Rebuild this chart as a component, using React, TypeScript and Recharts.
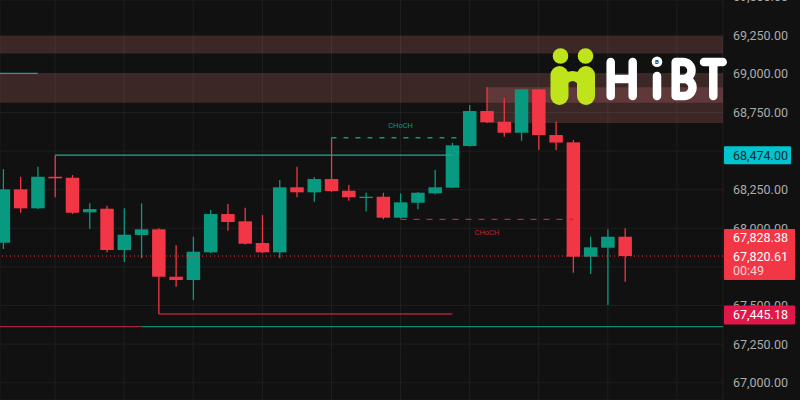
import React from 'react';
import {
  ComposedChart, Bar, XAxis, YAxis, CartesianGrid, ReferenceLine, ReferenceArea,
} from 'recharts';

// 1-minute candles
const opens = [67906.7, 68252.6, 68129.5, 68334, 68327.7, 68103.6, 68127, 67859.5, 67956.6, 67993.5, 67686.5, 67665.1, 67844.6, 68092.6, 68045.3, 67904.8, 67844.6, 68265.6, 68233.2, 68319.3, 68243.5, 68196.3, 68204.7, 68068.7, 68165.8, 68226.7, 68263, 68533, 68759.8, 68690.4, 68619.2, 68900.3, 68604.3, 68557, 67816, 67874.3, 67945.6];
const highs = [68384, 68334, 68399, 68474, 68345, 68162, 68146, 68129.5, 68162, 68000, 67889.9, 67945.6, 68118.5, 68157.4, 68133.4, 68086.1, 68312.8, 68399, 68330.3, 68586.8, 68280.5, 68231.9, 68230.6, 68226.7, 68235, 68377.6, 68554.4, 68798.6, 68913.3, 68842, 68902, 68902, 68690.4, 68571.9, 67945.6, 67993.5, 68000];
const lows = [67866, 68101, 68125, 68200.8, 68092.6, 67997.4, 67844.6, 67781.7, 67805.7, 67445.18, 67621.7, 67535.6, 67840, 67984.5, 67895, 67840, 67805.7, 68200.8, 68172.3, 68235, 68178.8, 68108.8, 68058.3, 68063.5, 68123, 68220.2, 68261, 68530, 68682, 68593.3, 68567.4, 68507.1, 68507.1, 67712.4, 67704, 67503.2, 67654.1];
const closes = [68252.6, 68129.5, 68334, 68323.9, 68101, 68125, 67859.5, 67958.5, 67993.5, 67686.5, 67665.1, 67848.4, 68092.6, 68040.8, 67900.3, 67844.6, 68265.6, 68233.2, 68319.3, 68241.6, 68200.8, 68204.7, 68068.7, 68168.4, 68230.6, 68265.6, 68537.6, 68759.8, 68686.6, 68619.2, 68900.3, 68604.3, 68555.7, 67816, 67877, 67945.6, 67820.61];

const priceTicks = [67000, 67250, 67500, 67750, 68000, 68250, 68500, 68750, 69000, 69250, 69500];
const timeGrid = [3, 7, 11, 15, 19, 23, 27, 31, 35, 39];

// structure levels (SMC indicator)
const bosLevel = 68474;
const chochUp = 68586.8;
const chochDown = 68058.3;
const swingLow = 67445.18;
const baseLevel = 67362.7;
const topLevel = 69004;
const lastPrice = 67820.61;
const markPrice = 67828.38;
const countdown = '00:49';

const zoneA = [69132, 69246];
const zoneB = [68813.5, 69004];
const zoneC = [68682, 68913.3];

const X_DOMAIN: [number, number] = [-0.19, 41.67];
const Y_DOMAIN: [number, number] = [66888, 69479];
const AXIS_W = 77;

const GREEN = '#089981';
const RED = '#f23645';
const BG = '#111111';
const FONT = 'Roboto, sans-serif';

const candles = opens.map((o, i) => ({
  i,
  open: o,
  high: highs[i],
  low: lows[i],
  close: closes[i],
}));

const fmt = (v: number) =>
  v.toLocaleString('en-US', { minimumFractionDigits: 2, maximumFractionDigits: 2 });

function Candle(props: any) {
  const { x, y, width, height, payload } = props;
  if (x == null || y == null) return null;
  const { open, close, high, low } = payload;
  const color = close >= open ? GREEN : RED;
  const span = high - low || 1;
  const toY = (v: number) => y + ((high - v) / span) * height;
  const cx = x + width / 2;
  const top = toY(Math.max(open, close));
  const bot = toY(Math.min(open, close));
  return (
    <g>
      <line x1={cx} x2={cx} y1={y} y2={y + height} stroke={color} strokeWidth={1.3} />
      <rect x={x} y={top} width={width} height={Math.max(bot - top, 1.2)} fill={color} />
    </g>
  );
}

// price tag drawn on the right scale, anchored at a level's y
function PriceTag(props: any) {
  const { viewBox, bg, fg, lines, top, h, w } = props;
  if (!viewBox) return null;
  const x0 = viewBox.x + viewBox.width + 1;
  const y = viewBox.y;
  return (
    <g>
      <rect x={x0} y={y + top} width={w} height={h} fill={bg} rx={1} />
      {lines.map((l: any, k: number) => (
        <text
          key={k}
          x={x0 + 9}
          y={y + l.dy}
          dy="0.36em"
          fill={l.color || fg}
          fontSize={l.size || 12.5}
          fontFamily={FONT}
        >
          {l.text}
        </text>
      ))}
    </g>
  );
}

function Logo() {
  const lime = '#bfe41c';
  const white = '#ffffff';
  return (
    <svg width={800} height={400} style={{ position: 'absolute', left: 0, top: 0, pointerEvents: 'none' }}>
      <circle cx={560.5} cy={56} r={7.8} fill={lime} />
      <circle cx={585.5} cy={56} r={7.8} fill={lime} />
      <rect x={550.5} y={66} width={18} height={39} rx={9} fill={lime} />
      <rect x={577} y={66} width={18} height={39} rx={9} fill={lime} />
      <path d="M559 86 Q572.5 66 586 86" stroke={lime} strokeWidth={10} fill="none" />
      <g stroke={white} strokeWidth={8.5} strokeLinecap="round" strokeLinejoin="round" fill="none">
        <path d="M610.7 62 V96 M632.7 62 V96 M610.7 79 H632.7" />
        <path d="M657 76 V96" />
        <path d="M675.7 62 H683 A8.5 8.5 0 0 1 683 79 H675.7 M684 79 A8.5 8.5 0 0 1 684 96 H675.7 V62" />
        <path d="M704 62 H722.7 M713.3 62 V96" />
      </g>
      <circle cx={657} cy={61.7} r={5.3} fill={white} />
      <text x={657} y={63.8} fontSize={6} fontWeight={700} fill="#333" textAnchor="middle" fontFamily={FONT}>B</text>
    </svg>
  );
}

export default function App() {
  return (
    <div
      style={{
        position: 'absolute',
        left: 0,
        top: 0,
        width: 800,
        height: 400,
        background: BG,
        overflow: 'hidden',
        fontFamily: FONT,
      }}
    >
      <ComposedChart
        width={800}
        height={400}
        data={candles}
        margin={{ top: 0, right: 0, bottom: 0, left: 0 }}
        style={{ position: 'absolute', left: 0, top: 0 }}
      >
        <CartesianGrid stroke="#1f1f1f" strokeWidth={1} />
        <XAxis
          dataKey="i"
          type="number"
          domain={X_DOMAIN}
          allowDataOverflow
          ticks={timeGrid}
          hide
        />
        <YAxis
          orientation="right"
          type="number"
          width={AXIS_W}
          domain={Y_DOMAIN}
          allowDataOverflow
          ticks={priceTicks}
          interval={0}
          axisLine={false}
          tickLine={false}
          tickMargin={4}
          tick={{ fill: '#ababab', fontSize: 12.5, fontFamily: FONT }}
          tickFormatter={(v: number) => fmt(v)}
        />

        <ReferenceArea y1={zoneA[0]} y2={zoneA[1]} fill="#ed8484" fillOpacity={0.2} stroke="none" ifOverflow="visible" />
        <ReferenceArea y1={zoneB[0]} y2={zoneB[1]} fill="#ed8484" fillOpacity={0.2} stroke="none" ifOverflow="visible" />
        <ReferenceArea x1={28} y1={zoneC[0]} y2={zoneC[1]} fill="#ed8484" fillOpacity={0.2} stroke="none" ifOverflow="visible" />

        <ReferenceLine
          segment={[{ x: X_DOMAIN[0], y: topLevel }, { x: 2, y: topLevel }]}
          stroke="#1f9e8e" strokeWidth={1.3} ifOverflow="visible"
        />
        <ReferenceLine
          segment={[{ x: 3, y: bosLevel }, { x: 26, y: bosLevel }]}
          stroke="#22a597" strokeWidth={1.3} ifOverflow="visible"
        />
        <ReferenceLine
          segment={[{ x: 19, y: chochUp }, { x: 27, y: chochUp }]}
          stroke={GREEN} strokeWidth={1.3} strokeDasharray="5 7" ifOverflow="visible"
          label={{ value: 'CHoCH', position: 'top', offset: 10, fill: GREEN, fontSize: 7.5, fontFamily: FONT }}
        />
        <ReferenceLine
          segment={[{ x: 23, y: chochDown }, { x: 33, y: chochDown }]}
          stroke="#b8283a" strokeWidth={1.3} strokeDasharray="6 7" ifOverflow="visible"
          label={{ value: 'CHoCH', position: 'bottom', offset: 10, fill: '#b8283a', fontSize: 7.5, fontFamily: FONT }}
        />
        <ReferenceLine
          segment={[{ x: 9, y: swingLow }, { x: 26, y: swingLow }]}
          stroke="#a82538" strokeWidth={1.3} ifOverflow="visible"
        />
        <ReferenceLine
          segment={[{ x: X_DOMAIN[0], y: baseLevel }, { x: 8, y: baseLevel }]}
          stroke="#a82538" strokeWidth={1.3} ifOverflow="visible"
        />
        <ReferenceLine
          segment={[{ x: 8, y: baseLevel }, { x: X_DOMAIN[1], y: baseLevel }]}
          stroke="#0b8a76" strokeWidth={1.3} ifOverflow="visible"
        />

        <Bar
          dataKey={(d: any) => [d.low, d.high]}
          barSize={13.5}
          shape={Candle}
          isAnimationActive={false}
        />

        <ReferenceLine y={lastPrice} stroke={RED} strokeWidth={1} strokeDasharray="1 3" />
      </ComposedChart>

      {/* second layer with the same scales, so the price tags sit above the axis ticks */}
      <ComposedChart
        width={800}
        height={400}
        data={candles}
        margin={{ top: 0, right: AXIS_W, bottom: 0, left: 0 }}
        style={{ position: 'absolute', left: 0, top: 0 }}
      >
        <XAxis dataKey="i" type="number" domain={X_DOMAIN} allowDataOverflow hide />
        <YAxis type="number" domain={Y_DOMAIN} allowDataOverflow hide />
        <ReferenceLine
          y={lastPrice}
          stroke="none"
          label={
            <PriceTag
              bg={RED}
              fg="#ffffff"
              top={-27}
              h={51}
              w={71}
              lines={[
                { text: fmt(markPrice), dy: -18.5 },
                { text: fmt(lastPrice), dy: 0 },
                { text: countdown, dy: 14.5, color: 'rgba(255,255,255,0.78)' },
              ]}
            />
          }
        />
        <ReferenceLine
          y={bosLevel}
          stroke="none"
          label={<PriceTag bg="#00c4d0" fg="#0a2a2d" top={-9} h={18} w={67} lines={[{ text: fmt(bosLevel), dy: 0 }]} />}
        />
        <ReferenceLine
          y={swingLow}
          stroke="none"
          label={<PriceTag bg="#e0184a" fg="#ffffff" top={-8.5} h={19} w={71} lines={[{ text: fmt(swingLow), dy: 0.5 }]} />}
        />
      </ComposedChart>
      <Logo />
    </div>
  );
}
